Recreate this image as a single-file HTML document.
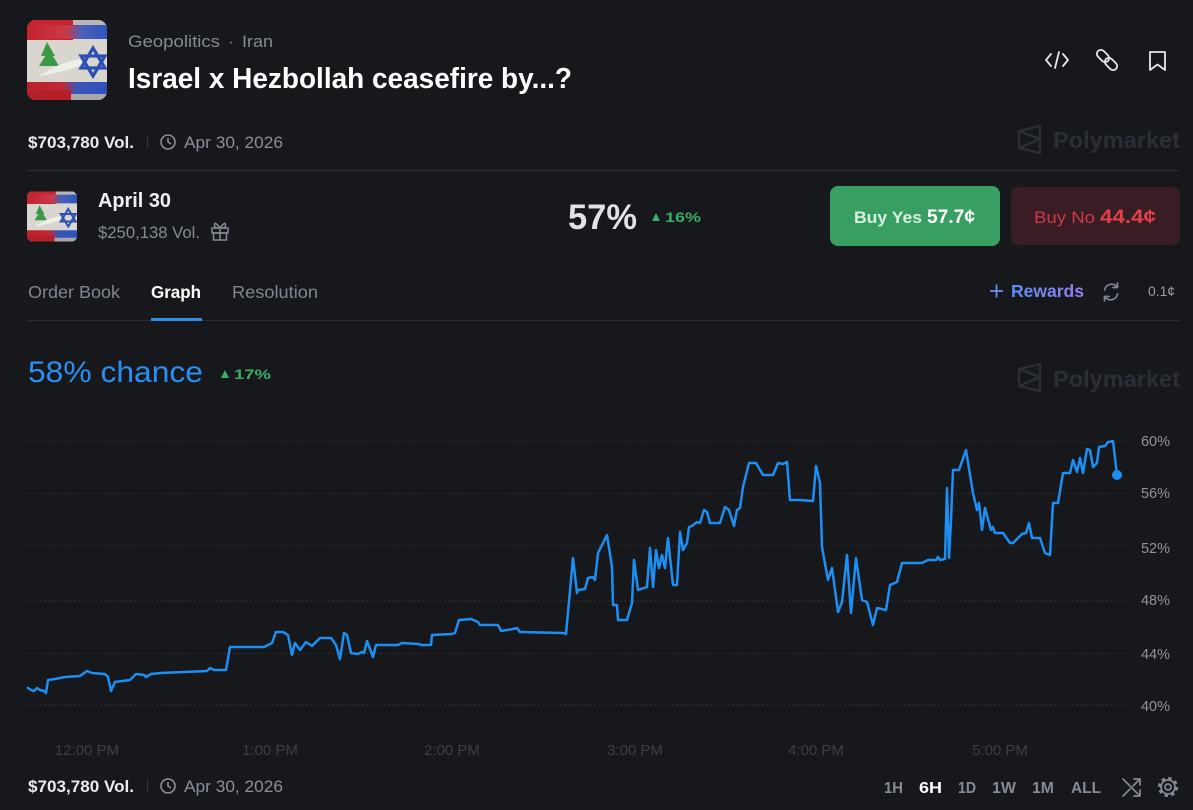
<!DOCTYPE html>
<html><head><meta charset="utf-8"><style>
html,body{margin:0;padding:0;background:#16181c;}
svg{display:block;}
text{font-family:"Liberation Sans",sans-serif;}
</style></head><body>
<svg width="1193" height="810" viewBox="0 0 1193 810" xmlns="http://www.w3.org/2000/svg">
<defs>
<linearGradient id="rg" x1="0" x2="1" y1="0" y2="0"><stop offset="0" stop-color="#5a8ff2"/><stop offset="1" stop-color="#9a7bf0"/></linearGradient>
<linearGradient id="topstripe" x1="0" x2="1" y1="0" y2="0"><stop offset="0" stop-color="#c4232d"/><stop offset="0.5" stop-color="#c63a48"/><stop offset="0.68" stop-color="#4a5fb8"/><stop offset="1" stop-color="#2f55c0"/></linearGradient>
<linearGradient id="botstripe" x1="0" x2="1" y1="0" y2="0"><stop offset="0" stop-color="#b8222c"/><stop offset="0.45" stop-color="#c12a36"/><stop offset="0.62" stop-color="#3a55b6"/><stop offset="1" stop-color="#2e52bd"/></linearGradient>
<clipPath id="fc"><rect x="0" y="0" width="80" height="80" rx="9"/></clipPath>
<symbol id="flag" viewBox="0 0 80 80">
<g clip-path="url(#fc)">
<rect x="0" y="0" width="80" height="80" fill="#d9d6d0"/>
<rect x="0" y="0" width="80" height="8" fill="#b9b6b4"/>
<rect x="0" y="0" width="46" height="20" fill="#c9242e"/>
<rect x="0" y="5" width="80" height="14" fill="url(#topstripe)"/>
<rect x="0" y="62" width="80" height="13" fill="url(#botstripe)"/>
<rect x="0" y="70" width="44" height="10" fill="#b3202a"/>
<rect x="44" y="74" width="36" height="6" fill="#a9a7a8"/>
<path d="M20 22 L28 36 L14 36 Z M22 30 L32 46 L12 46 Z" fill="#3a9a45"/>
<path d="M12 56 Q30 44 48 40 Q55 38 58 42 Q50 48 40 50 Q26 54 12 56 Z" fill="#eeeeea"/>
<g fill="none" stroke="#2d4fb5" stroke-width="3.2"><path d="M66 28 L78 48 L54 48 Z"/><path d="M66 56 L54 36 L78 36 Z"/></g>
</g>
</symbol>
</defs>
<rect width="1193" height="810" fill="#16181c"/>

<!-- header -->
<use href="#flag" x="27" y="20" width="80" height="80"/>
<text x="128" y="47" font-size="17" fill="#858b94" textLength="92" lengthAdjust="spacingAndGlyphs">Geopolitics</text>
<text x="228" y="47" font-size="17" fill="#858b94">·</text>
<text x="242" y="47" font-size="17" fill="#858b94" textLength="31" lengthAdjust="spacingAndGlyphs">Iran</text>
<text x="128" y="88" font-size="29" font-weight="700" fill="#ffffff" textLength="444" lengthAdjust="spacingAndGlyphs">Israel x Hezbollah ceasefire by...?</text>

<!-- top icons -->
<g fill="none" stroke="#e6e8eb" stroke-width="1.8" stroke-linecap="round" stroke-linejoin="round">
<path d="M1051 54 L1046 60 L1051 66 M1063 54 L1068 60 L1063 66 M1059 52 L1055 68"/>
<rect x="1096" y="52" width="14" height="8" rx="4" transform="rotate(45 1103 56)"/>
<rect x="1104" y="60" width="14" height="8" rx="4" transform="rotate(45 1111 64)"/>
<path d="M1150 52 H1165 V70 L1157.5 64.5 L1150 70 Z"/>
</g>

<!-- vol row -->
<text x="28" y="148" font-size="17" font-weight="700" fill="#e8eaed" textLength="106" lengthAdjust="spacingAndGlyphs">$703,780 Vol.</text>
<rect x="147" y="135" width="1" height="13" fill="#33373e"/>
<g fill="none" stroke="#8a8f98" stroke-width="1.6"><circle cx="168" cy="142" r="7"/><path d="M168 138 V142 L171 144"/></g>
<text x="184" y="148" font-size="17" fill="#8a8f98" textLength="99" lengthAdjust="spacingAndGlyphs">Apr 30, 2026</text>
<!-- watermark 1 -->
<g fill="none" stroke="#2a2e35" stroke-width="2.4" stroke-linejoin="round"><path d="M1019 131 L1040 126 L1040 153 L1019 148 Z M1019 131 L1040 139 L1019 148"/></g>
<text x="1053" y="148" font-size="23.5" font-weight="700" fill="#2a2e35" textLength="127" lengthAdjust="spacingAndGlyphs">Polymarket</text>
<rect x="27" y="170" width="1153" height="1" fill="#2a2d33"/>

<!-- market row -->
<use href="#flag" x="27" y="191" width="50" height="51"/>
<text x="98" y="207" font-size="20" font-weight="700" fill="#eef0f2" textLength="73" lengthAdjust="spacingAndGlyphs">April 30</text>
<text x="98" y="238" font-size="16.5" fill="#858b94" textLength="102" lengthAdjust="spacingAndGlyphs">$250,138 Vol.</text>
<g fill="none" stroke="#858b94" stroke-width="1.5" stroke-linejoin="round"><rect x="212" y="228" width="16" height="5"/><rect x="213.5" y="233" width="13" height="7"/><path d="M220 228 V240 M220 228 Q214 220 214.5 226 Q215 228 220 228 Q226 220 225.5 226 Q225 228 220 228"/></g>
<text x="568" y="229" font-size="35" font-weight="700" fill="#dfe2e6" textLength="69" lengthAdjust="spacingAndGlyphs">57%</text>
<path d="M652 221 L656 213 L660 221 Z" fill="#3aae66"/>
<text x="665" y="222" font-size="14" font-weight="700" fill="#3aae66" textLength="36" lengthAdjust="spacingAndGlyphs">16%</text>

<rect x="830" y="186" width="170" height="60" rx="8" fill="#389e62"/>
<text x="854" y="223" font-size="17" font-weight="700" fill="#d8f0e0" textLength="68" lengthAdjust="spacingAndGlyphs">Buy Yes</text>
<text x="927" y="223" font-size="19" font-weight="700" fill="#ffffff" textLength="48" lengthAdjust="spacingAndGlyphs">57.7¢</text>
<rect x="1011" y="187" width="169" height="58" rx="8" fill="#3a1d24"/>
<text x="1034" y="223" font-size="17" fill="#cc3a45" textLength="61" lengthAdjust="spacingAndGlyphs">Buy No</text>
<text x="1100" y="223" font-size="19" font-weight="700" fill="#e2404b" textLength="56" lengthAdjust="spacingAndGlyphs">44.4¢</text>

<!-- tabs -->
<text x="28" y="298" font-size="17.5" fill="#80868f" textLength="92" lengthAdjust="spacingAndGlyphs">Order Book</text>
<text x="151" y="298" font-size="17.5" font-weight="700" fill="#ffffff" textLength="50" lengthAdjust="spacingAndGlyphs">Graph</text>
<text x="232" y="298" font-size="17.5" fill="#80868f" textLength="86" lengthAdjust="spacingAndGlyphs">Resolution</text>
<path d="M990 291 H1003 M996.5 284.5 V297.5" stroke="#6a8ef2" stroke-width="1.8"/>
<text x="1011" y="297" font-size="17.5" font-weight="700" fill="url(#rg)" textLength="73" lengthAdjust="spacingAndGlyphs">Rewards</text>
<g fill="none" stroke="#80868f" stroke-width="1.7" stroke-linecap="round" stroke-linejoin="round"><path d="M1104.5 290 A7 7 0 0 1 1117 287 M1117.5 294 A7 7 0 0 1 1105 297"/><path d="M1117.5 283 V287.5 H1113"/><path d="M1104.5 301 V296.5 H1109"/></g>
<text x="1148" y="296" font-size="14" fill="#9a9ea5" textLength="27" lengthAdjust="spacingAndGlyphs">0.1¢</text>
<rect x="27" y="320" width="1153" height="1" fill="#2a2d33"/>
<rect x="151" y="318" width="51" height="3" fill="#2d8ee6"/>

<!-- chance -->
<text x="28" y="382" font-size="30" fill="#2a8ff2" textLength="175" lengthAdjust="spacingAndGlyphs">58% chance</text>
<path d="M221 378 L225 370 L229 378 Z" fill="#3aae66"/>
<text x="234" y="379" font-size="14" font-weight="700" fill="#3aae66" textLength="37" lengthAdjust="spacingAndGlyphs">17%</text>
<g fill="none" stroke="#2a2e35" stroke-width="2.4" stroke-linejoin="round"><path d="M1019 369 L1040 364 L1040 391 L1019 386 Z M1019 369 L1040 377 L1019 386"/></g>
<text x="1053" y="387" font-size="23.5" font-weight="700" fill="#2a2e35" textLength="127" lengthAdjust="spacingAndGlyphs">Polymarket</text>

<!-- grid -->
<g stroke="#3a3e45" stroke-width="1" stroke-dasharray="1.3 3">
<line x1="27" y1="442" x2="1128" y2="442"/>
<line x1="27" y1="493.5" x2="1128" y2="493.5"/>
<line x1="27" y1="546" x2="1128" y2="546"/>
<line x1="27" y1="601" x2="1128" y2="601"/>
<line x1="27" y1="653.5" x2="1128" y2="653.5"/>
<line x1="27" y1="705" x2="1128" y2="705"/>
</g>
<g font-size="15" fill="#8f949b">
<text x="1141" y="446" textLength="29" lengthAdjust="spacingAndGlyphs">60%</text>
<text x="1141" y="498" textLength="29" lengthAdjust="spacingAndGlyphs">56%</text>
<text x="1141" y="553" textLength="29" lengthAdjust="spacingAndGlyphs">52%</text>
<text x="1141" y="605" textLength="29" lengthAdjust="spacingAndGlyphs">48%</text>
<text x="1141" y="659" textLength="29" lengthAdjust="spacingAndGlyphs">44%</text>
<text x="1141" y="711" textLength="29" lengthAdjust="spacingAndGlyphs">40%</text>
</g>
<g font-size="15" fill="#3b3f46" text-anchor="middle">
<text x="87" y="755">12:00 PM</text>
<text x="270" y="755">1:00 PM</text>
<text x="452" y="755">2:00 PM</text>
<text x="635" y="755">3:00 PM</text>
<text x="816" y="755">4:00 PM</text>
<text x="1000" y="755">5:00 PM</text>
</g>

<!-- series -->
<polyline fill="none" stroke="#1d8ff2" stroke-width="2.5" stroke-linejoin="round" stroke-linecap="round" points="28,688 31,690 34,691 37,688 40,690 44,691 46,693 48,680 55,679 65,677 80,676 87,671 92,673 105,674 108,677 111,691 115,682 130,680 136,674 144,675 146,677 151,674 161,673 184,672 207,671 210,668 214,670 226,670 230,647 264,647 272,643 276,632 283,632 288,635 292,655 295,643 300,650 306,642 312,646 320,638 331,638 336,645 340,659 344,633 347,635 351,653 358,654 362,652 364,653 367,641 373,657 376,645 398,645 402,643 419,644 421,645 431,645 432,635 452,634 455,633 459,620 471,619 478,622 480,625 498,625 501,631 513,629 517,628 520,632 563,633 566,634 573,558 577,593 578,590 585,589 588,578 593,577 595,580 598,553 607,535 612,567 613,605 617,605 618,620 627,620 632,603 634,560 638,590 647,587 650,548 653,587 656,550 659,568 662,555 665,568 668,538 673,585 677,585 680,532 683,550 687,543 689,527 692,526 697,522 700,523 704,510 707,512 710,523 720,523 725,507 729,510 734,526 737,510 740,508 743,487 749,463 756,463 763,475 773,475 778,463 783,464 787,462 790,500 800,500 813,501 816,466 820,483 822,547 828,580 832,568 838,612 842,602 847,555 851,613 856,558 862,600 867,602 873,625 877,608 886,610 890,585 897,582 902,563 922,563 928,560 936,560 938,557 940,560 945,559 947,488 949,558 951,520 953,470 959,470 966,450 973,493 977,510 979,503 982,530 985,508 991,530 993,527 995,533 1003,533 1010,543 1013,543 1022,534 1026,533 1029,523 1032,538 1040,538 1045,553 1050,555 1053,503 1058,503 1063,473 1070,473 1073,460 1077,472 1080,458 1083,473 1087,449 1090,450 1093,467 1097,463 1099,447 1105,446 1108,442 1113,441 1117,475"/>
<circle cx="1117" cy="475" r="5" fill="#1d8ff2"/>

<!-- bottom row -->
<text x="28" y="792" font-size="17" font-weight="700" fill="#e8eaed" textLength="106" lengthAdjust="spacingAndGlyphs">$703,780 Vol.</text>
<rect x="147" y="779" width="1" height="13" fill="#33373e"/>
<g fill="none" stroke="#8a8f98" stroke-width="1.6"><circle cx="168" cy="786" r="7"/><path d="M168 782 V786 L171 788"/></g>
<text x="184" y="792" font-size="17" fill="#8a8f98" textLength="99" lengthAdjust="spacingAndGlyphs">Apr 30, 2026</text>
<g font-size="16" font-weight="700" fill="#858b94">
<text x="884" y="793" textLength="19" lengthAdjust="spacingAndGlyphs">1H</text>
<text x="919" y="793" textLength="23" lengthAdjust="spacingAndGlyphs" fill="#ffffff">6H</text>
<text x="958" y="793" textLength="18" lengthAdjust="spacingAndGlyphs">1D</text>
<text x="992" y="793" textLength="24" lengthAdjust="spacingAndGlyphs">1W</text>
<text x="1032" y="793" textLength="22" lengthAdjust="spacingAndGlyphs">1M</text>
<text x="1071" y="793" textLength="30" lengthAdjust="spacingAndGlyphs">ALL</text>
</g>
<g fill="none" stroke="#858b94" stroke-width="1.7" stroke-linecap="round" stroke-linejoin="round">
<path d="M1123 779 L1140 796 M1123 796 L1130 789 M1133 786 L1140 779 M1134 779 H1140 V785 M1140 790 V796 H1134"/>
<circle cx="1168" cy="787" r="3"/>
<circle cx="1168" cy="787" r="7"/>
</g>
<circle cx="1168" cy="787" r="8.6" fill="none" stroke="#858b94" stroke-width="3" stroke-dasharray="3.4 3.35"/>
</svg>
</body></html>
